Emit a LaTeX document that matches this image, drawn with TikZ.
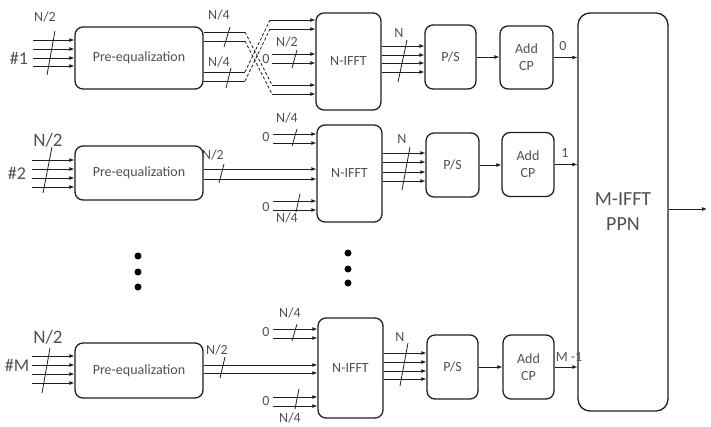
\documentclass[tikz,border=0pt]{standalone}
\usepackage{fontspec}
\setmainfont{Carlito}
\usetikzlibrary{arrows.meta}
\definecolor{txt}{HTML}{505050}
\definecolor{ln}{HTML}{202020}
\begin{document}
\begin{tikzpicture}[x=1pt,y=-1pt,
  blk/.style={draw=ln, line width=1.3pt, rounded corners=8pt, align=center, text=txt, inner sep=0pt, font=\fontsize{14}{17}\selectfont},
  bus/.style={line width=0.8pt, draw=ln},
  arr/.style={bus, -{Latex[length=5pt,width=4pt]}},
  lbl/.style={text=txt, inner sep=0pt, font=\fontsize{14}{16}\selectfont},
  big/.style={text=txt, inner sep=0pt, font=\fontsize{19}{22}\selectfont},
  dotm/.style={circle, fill=black, inner sep=0pt, minimum size=7pt},
  dsh/.style={bus, dashed, dash pattern=on 3pt off 2pt}]
\useasboundingbox (0,0) rectangle (711,426);

% ---------------- blocks ----------------
\node[blk, minimum width=128pt, minimum height=62pt] (pe1) at (139,58) {Pre-equalization};
\node[blk, minimum width=128pt, minimum height=54pt] (pe2) at (139,173) {Pre-equalization};
\node[blk, minimum width=128pt, minimum height=55pt] (pe3) at (139,370.5) {Pre-equalization};

\node[blk, minimum width=65pt, minimum height=97pt] (f1) at (348.5,61.5) {N-IFFT};
\node[blk, minimum width=65pt, minimum height=97pt] (f2) at (349.5,173.5) {N-IFFT};
\node[blk, minimum width=65pt, minimum height=100pt] (f3) at (350.5,368) {N-IFFT};

\node[blk, minimum width=51pt, minimum height=64pt] (ps1) at (450.5,57) {P/S};
\node[blk, minimum width=53pt, minimum height=64pt] (ps2) at (452.5,165) {P/S};
\node[blk, minimum width=51pt, minimum height=64pt] (ps3) at (452.5,367) {P/S};

\node[blk, minimum width=53pt, minimum height=63pt] (cp1) at (526.5,57.5) {Add\\CP};
\node[blk, minimum width=52pt, minimum height=64pt] (cp2) at (528,164.5) {Add\\CP};
\node[blk, minimum width=51pt, minimum height=64pt] (cp3) at (528.5,367) {Add\\CP};

\node[blk, minimum width=90pt, minimum height=398pt, rounded corners=12pt, font=\fontsize{20}{25}\selectfont] (ppn) at (623,212) {M-IFFT\\PPN};

% ---------------- row labels ----------------
\node[big, font=\fontsize{18}{20}\selectfont] (h1) at (19,58) {\#1};
\node[big, font=\fontsize{18}{20}\selectfont] (h2) at (17,173) {\#2};
\node[big, font=\fontsize{18}{20}\selectfont] (h3) at (17,365) {\#M};

% ---------------- inputs ----------------
\foreach \y [count=\i] in {40,49,58,66}{\coordinate (ia\i) at (33,\y); \draw[arr] (ia\i) -- (ia\i -| pe1.west);}
\foreach \y [count=\i] in {160,169,178,187}{\coordinate (ib\i) at (32,\y); \draw[arr] (ib\i) -- (ib\i -| pe2.west);}
\foreach \y [count=\i] in {356,365,374,383}{\coordinate (ic\i) at (32,\y); \draw[arr] (ic\i) -- (ic\i -| pe3.west);}
\draw[bus] (47,75) -- (55,31);   \node[lbl] (l1) at (45,17) {N/2};
\draw[bus] (43,193) -- (52,147); \node[big] (l2) at (48,140) {N/2};
\draw[bus] (42,393) -- (50,348); \node[big] (l3) at (48,337) {N/2};

% ---------------- row 1 crossing ----------------
\coordinate (u1) at (245,32); \coordinate (u2) at (245,41);
\coordinate (v1) at (245,72); \coordinate (v2) at (245,81);
\coordinate (t1) at (270,20); \coordinate (t2) at (270,29);
\coordinate (m1) at (272,54); \coordinate (m2) at (272,63);
\coordinate (b1) at (272,85); \coordinate (b2) at (272,94);
\foreach \c in {u1,u2,v1,v2}{\draw[bus] (\c -| pe1.east) -- (\c);}
\draw[dsh] (u1) -- (b1); \draw[dsh] (u2) -- (b2);
\draw[dsh] (v1) -- (t1); \draw[dsh] (v2) -- (t2);
\foreach \c in {t1,t2,m1,m2,b1,b2}{\draw[arr] (\c) -- (\c -| f1.west);}
\draw[bus] (224,47) -- (230,27); \node[lbl] (l4) at (219,15) {N/4};
\draw[bus] (226,88) -- (231,68); \node[lbl] (l5) at (219,62) {N/4};
\draw[bus] (292,68) -- (297,50); \node[lbl] (l6) at (287,42) {N/2};
\node[lbl] (z1) at (266,59) {0};

% ---------------- row 2 ----------------
\coordinate (p1) at (250,169); \coordinate (p2) at (250,179);
\foreach \c in {p1,p2}{\draw[arr] (\c -| pe2.east) -- (\c -| f2.west);}
\draw[bus] (219,183) -- (224,164); \node[lbl] (l7) at (213,155) {N/2};
\node[lbl] (z2) at (266,137) {0};
\node[lbl] (z3) at (266,207) {0};
\foreach \y [count=\i] in {134,143,201,210}{\coordinate (q\i) at (273,\y); \draw[arr] (q\i) -- (q\i -| f2.west);}
\draw[bus] (292,146) -- (297,129); \node[lbl] (l8) at (287,118) {N/4};
\draw[bus] (296,212) -- (300,194); \node[lbl] (l9) at (287,218) {N/4};

% ---------------- row M ----------------
\coordinate (r1) at (250,365); \coordinate (r2) at (250,373);
\foreach \c in {r1,r2}{\draw[arr] (\c -| pe3.east) -- (\c -| f3.west);}
\draw[bus] (220,378) -- (225,357); \node[lbl] (l10) at (217,350) {N/2};
\node[lbl] (z4) at (266,332) {0};
\node[lbl] (z5) at (266,401) {0};
\foreach \y [count=\i] in {329,338,397,406}{\coordinate (s\i) at (273,\y); \draw[arr] (s\i) -- (s\i -| f3.west);}
\draw[bus] (292,341) -- (297,324); \node[lbl] (l11) at (290,313) {N/4};
\draw[bus] (295,409) -- (299,389); \node[lbl] (l12) at (290,418) {N/4};

% ---------------- N-IFFT to P/S ----------------
\foreach \y [count=\i] in {46,55,63,72}{\coordinate (na\i) at (0,\y); \draw[arr] (na\i -| f1.east) -- (na\i -| ps1.west);}
\foreach \y [count=\i] in {153,162,172,181}{\coordinate (nb\i) at (0,\y); \draw[arr] (nb\i -| f2.east) -- (nb\i -| ps2.west);}
\foreach \y [count=\i] in {353,362,371,379}{\coordinate (nc\i) at (0,\y); \draw[arr] (nc\i -| f3.east) -- (nc\i -| ps3.west);}
\draw[bus] (398,82) -- (407,40);   \node[lbl] (n1) at (399,33) {N};
\draw[bus] (402,190) -- (410,147); \node[lbl] (n2) at (402,139) {N};
\draw[bus] (400,386) -- (408,343); \node[lbl] (n3) at (400,337) {N};

% ---------------- P/S to Add CP to PPN ----------------
\draw[arr] (ps1.east) -- (ps1.east -| cp1.west);
\draw[arr] (ps2.east) -- (ps2.east -| cp2.west);
\draw[arr] (ps3.east) -- (ps3.east -| cp3.west);
\draw[arr] (cp1.east) -- (cp1.east -| ppn.west);
\draw[arr] (cp2.east) -- (cp2.east -| ppn.west);
\draw[arr] (cp3.east) -- (cp3.east -| ppn.west);
\node[lbl] (o1) at (563,46) {0};
\node[lbl] (o2) at (565,153) {1};
\node[lbl] (o3) at (569,357) {M -1};
\coordinate (out) at (707,209);
\draw[arr] (out -| ppn.east) -- (out);

% ---------------- dots ----------------
\foreach \y in {256,272,287}{\node[dotm] at (138,\y) {};}
\foreach \y in {253,269,283}{\node[dotm] at (348,\y) {};}
\end{tikzpicture}
\end{document}
